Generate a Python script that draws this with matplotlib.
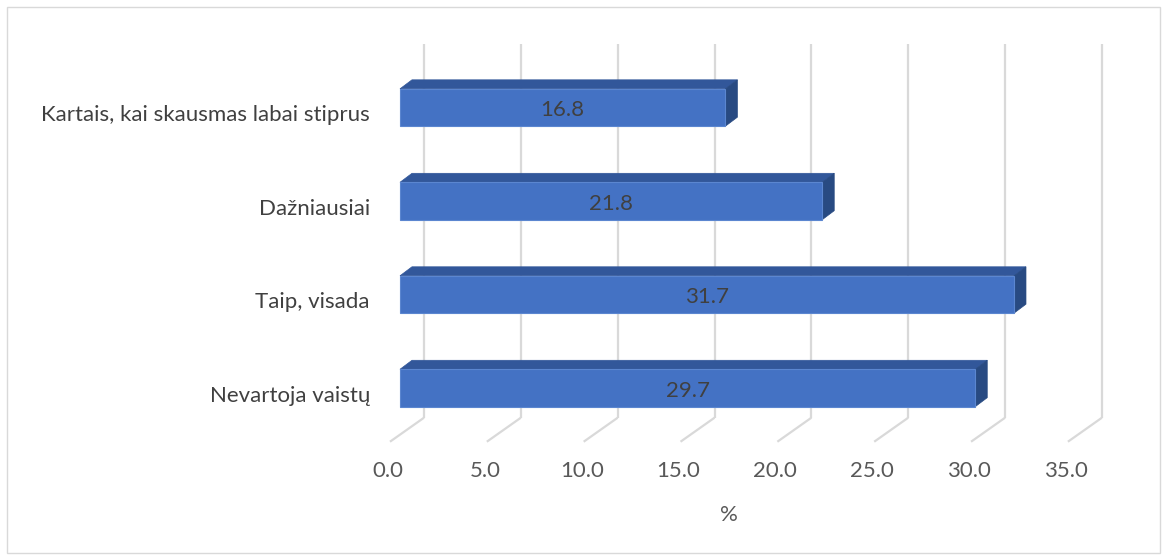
import matplotlib
matplotlib.use('Agg')
import matplotlib.pyplot as plt
from matplotlib.patches import Polygon, Rectangle

plt.rcParams['font.family'] = ['Lato', 'DejaVu Sans']

# data
categories = ['Nevartoja vaistų', 'Taip, visada', 'Dažniausiai',
              'Kartais, kai skausmas labai stiprus']
values = [29.7, 31.7, 21.8, 16.8]
ticks = [0, 5, 10, 15, 20, 25, 30, 35]
xlabel = '%'

W, H = 1167, 560
fig = plt.figure(figsize=(W / 100, H / 100), dpi=100)
ax = fig.add_axes([0, 0, 1, 1])
ax.set_xlim(-20.65, 39.60)
ax.set_ylim(-1.84, 4.15)
ax.axis('off')

# pixel -> data unit helpers (for the fake 3d depth)
x0, x1 = ax.get_xlim()
y0, y1 = ax.get_ylim()
def dxp(px):
    return px * (x1 - x0) / W
def dyp(px):
    return px * (y1 - y0) / H

grid_c = '#d9d9d9'
wall = (dxp(24), dyp(17))
floor = (dxp(-10), dyp(-7))
back = (dxp(12), dyp(9))
ybot, ytop = -0.5, 3.5
fs = 16

# back wall gridlines + floor lines
for t in ticks:
    ax.plot([t + wall[0], t + wall[0]], [ybot + wall[1], ytop + wall[1]],
            color=grid_c, lw=1.6, solid_capstyle='butt', zorder=1)
    ax.plot([t + wall[0], t + floor[0]], [ybot + wall[1], ybot + floor[1]],
            color=grid_c, lw=1.6, solid_capstyle='butt', zorder=1)
    ax.text(t + floor[0] - dxp(2), -0.89, '%.1f' % t, ha='center', va='center',
            fontsize=fs, color='#595959')

ax.text(17.5 + floor[0], -1.36, xlabel, ha='center', va='center',
        fontsize=fs, color='#595959')

h = 0.4
for i, (cat, v) in enumerate(zip(categories, values)):
    b, t = i - h / 2, i + h / 2
    front = Rectangle((0, b), v, h, facecolor='#4472c4',
                      edgecolor='#5b86d0', lw=0.8, zorder=3)
    top = Polygon([(0, t), (v, t), (v + back[0], t + back[1]),
                   (back[0], t + back[1])], closed=True,
                  facecolor='#32579a', edgecolor='#32579a', lw=0.5, zorder=2)
    side = Polygon([(v, b), (v, t), (v + back[0], t + back[1]),
                    (v + back[0], b + back[1])], closed=True,
                   facecolor='#284a82', edgecolor='#284a82', lw=0.5, zorder=2)
    ax.add_patch(top)
    ax.add_patch(side)
    ax.add_patch(front)
    ax.text(v / 2, i - 0.03, '%.1f' % v, ha='center', va='center',
            fontsize=fs, color='#404040', zorder=4)
    ax.text(-1.55, i - 0.085, cat, ha='right', va='center',
            fontsize=fs, color='#404040')

# chart border
fig.patches.append(Rectangle((7 / W, 7 / H), (1160 - 7) / W, (553 - 7) / H,
                             transform=fig.transFigure, fill=False,
                             edgecolor='#d9d9d9', lw=1))

fig.savefig('out.png', dpi=100)
